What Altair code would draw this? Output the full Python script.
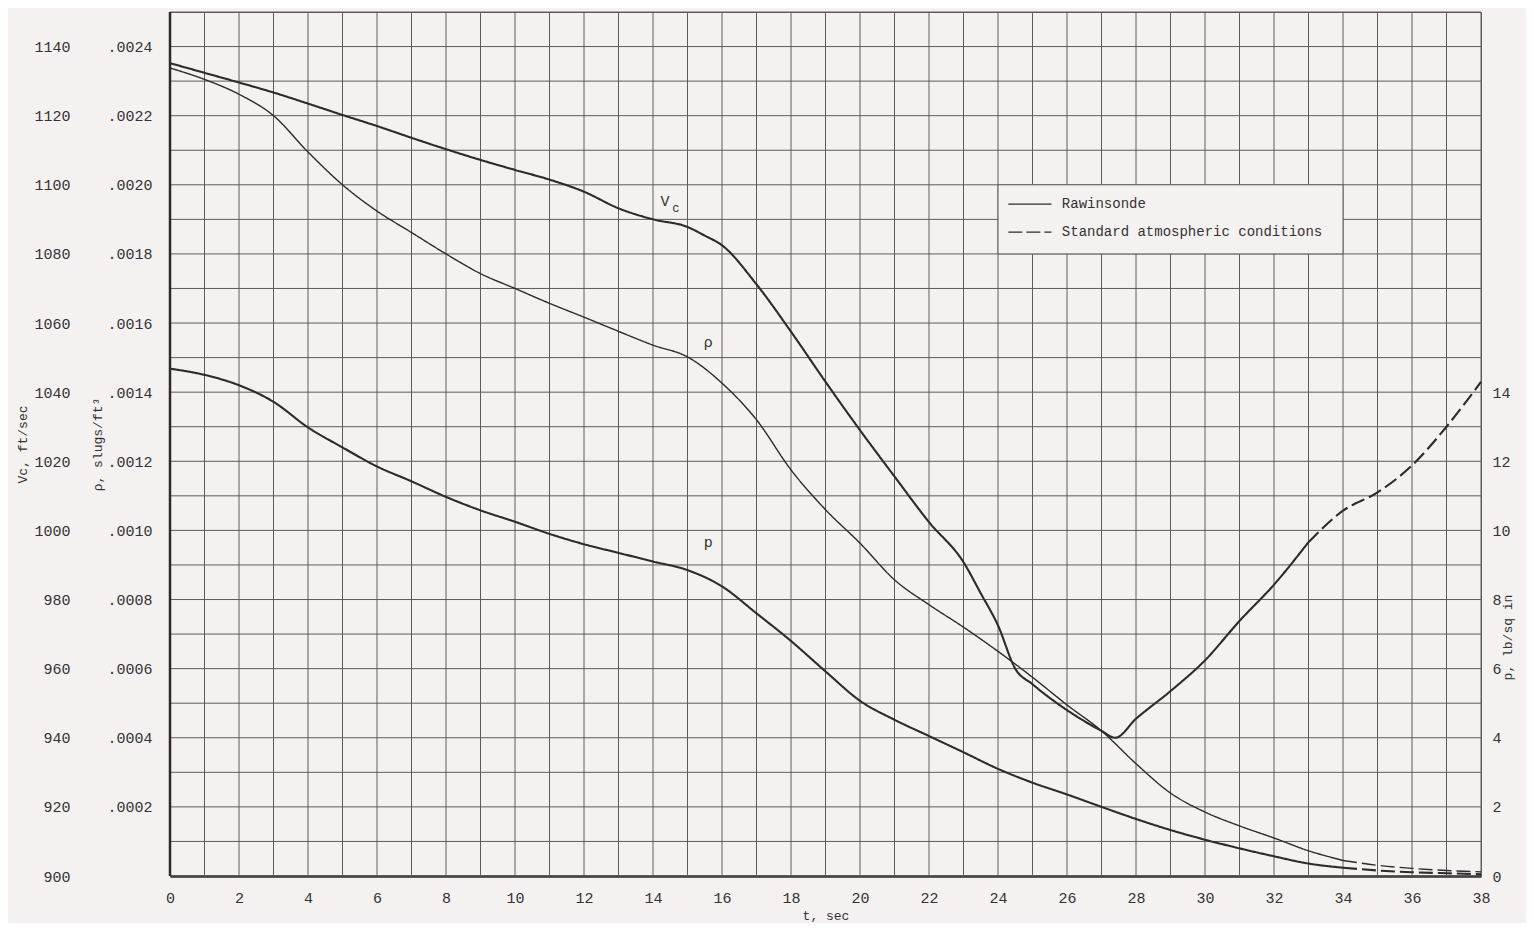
import altair as alt
import pandas as pd

# ---------------- data ----------------
t_vc = [0, 1, 2, 3, 4, 5, 6, 7, 8, 9, 10, 11, 12, 13, 14, 15, 15.5, 16, 17, 18, 19, 20,
        21, 22, 23, 23.5, 24, 24.5, 25, 26, 27, 27.4, 28, 29, 30, 31, 32, 33, 34, 35, 36, 37, 38]
vc = [1135.2, 1132.4, 1129.6, 1126.7, 1123.5, 1120.2, 1117.0, 1113.6, 1110.3, 1107.2,
      1104.3, 1101.5, 1098.0, 1093.2, 1090.0, 1087.8, 1085.3, 1082.5, 1071.2, 1057.5,
      1043.0, 1029.0, 1015.6, 1002.4, 990.8, 981.8, 972.5, 960.0, 955.5, 948.0, 942.0,
      940.0, 945.5, 953.5, 962.4, 973.8, 984.3, 996.6, 1005.7, 1011.0, 1018.8, 1030.0, 1043.0]

t_rho = list(range(0, 39))
rho = [0.002338, 0.002305, 0.002262, 0.002200, 0.002095, 0.002000, 0.001924, 0.001862,
       0.001800, 0.001743, 0.001700, 0.001657, 0.001617, 0.001576, 0.001536, 0.001502,
       0.001426, 0.001320, 0.001175, 0.001060, 0.000963, 0.000857, 0.000785, 0.000720,
       0.000650, 0.000575, 0.000495, 0.000420, 0.000325, 0.000240, 0.000185, 0.000145,
       0.000110, 0.000073, 0.000045, 0.000031, 0.000022, 0.000016, 0.000012]

t_p = list(range(0, 39))
p = [14.68, 14.50, 14.20, 13.72, 12.98, 12.40, 11.85, 11.42, 10.97, 10.58, 10.25, 9.90,
     9.60, 9.35, 9.10, 8.85, 8.38, 7.60, 6.80, 5.92, 5.07, 4.52, 4.05, 3.58, 3.10, 2.70,
     2.36, 2.00, 1.65, 1.33, 1.05, 0.80, 0.57, 0.36, 0.24, 0.16, 0.11, 0.08, 0.05]

vc_dash_from = 33      # rawinsonde data end, standard atmosphere after
rho_dash_from = 34
p_dash_from = 34

sources = ["Rawinsonde", "Standard atmospheric conditions"]
x_ticks = list(range(0, 39))
vc_ticks = list(range(900, 1151, 10))
rho_ticks = [round(i * 0.0002, 4) for i in range(1, 13)]
p_ticks = list(range(0, 15, 2))


def split(ts, vs, start, name):
    rows = []
    for t, v in zip(ts, vs):
        if t <= start:
            rows.append({"t": t, name: v, "src": sources[0]})
        if t >= start:
            rows.append({"t": t, name: v, "src": sources[1]})
    return pd.DataFrame(rows)


vc_df = split(t_vc, vc, vc_dash_from, "v")
rho_df = split(t_rho, rho, rho_dash_from, "rho")
p_df = split(t_p, p, p_dash_from, "p")

# ---------------- styling ----------------
W, H = 1311, 864
BG = "#f5f1f1"
INK = "#2b2b2b"
GRID = "#5c5c5c"
FONT = "Liberation Mono"

x_axis = alt.Axis(values=x_ticks, grid=False, ticks=False,
                  domain=True, domainColor=INK, domainWidth=2.5,
                  labelExpr="datum.value % 2 == 0 ? datum.label : ''",
                  labelFont=FONT, labelFontSize=15, labelColor="#333", labelPadding=14,
                  labelFlush=False, labelOverlap=False,
                  title="t, sec", titleFont=FONT, titleFontSize=13, titleFontWeight="normal",
                  titleColor="#333", titlePadding=4)
x_enc = alt.X("t:Q", scale=alt.Scale(domain=[0, 38], nice=False, zero=False), axis=x_axis)

vc_scale = alt.Scale(domain=[900, 1150], nice=False, zero=False)
vc_axis = alt.Axis(orient="left", values=vc_ticks, format="d", grid=False,
                   ticks=False, domain=False, offset=100, labelPadding=0,
                   labelExpr="datum.value % 20 == 0 && datum.value < 1150 ? datum.label : ''",
                   labelFont=FONT, labelFontSize=15, labelColor="#333",
                   labelFlush=False, labelOverlap=False,
                   title="Vc, ft/sec", titleFont=FONT, titleFontSize=13,
                   titleFontWeight="normal", titleColor="#333", titlePadding=4)
vc_y = alt.Y("v:Q", scale=vc_scale, axis=vc_axis)

rho_axis = alt.Axis(orient="left", values=rho_ticks, grid=False, ticks=False, domain=False,
                    offset=18, labelPadding=0,
                    labelExpr="replace(format(datum.value, '.4f'), '0.', '.')",
                    labelFont=FONT, labelFontSize=15, labelColor="#333",
                    labelFlush=False, labelOverlap=False,
                    title="ρ, slugs/ft³", titleFont=FONT, titleFontSize=13,
                    titleFontWeight="normal", titleColor="#333", titlePadding=2)
rho_y = alt.Y("rho:Q", scale=alt.Scale(domain=[0, 0.0025], nice=False, zero=False), axis=rho_axis)

p_axis = alt.Axis(orient="right", values=p_ticks, format="d", grid=False, ticks=False,
                  domain=False, labelPadding=11, labelFont=FONT, labelFontSize=15,
                  labelColor="#333", labelFlush=False, labelOverlap=False,
                  title="p, lb/sq in", titleFont=FONT, titleFontSize=13,
                  titleFontWeight="normal", titleColor="#333", titleAngle=270,
                  titlePadding=4, titleY=625)
p_y = alt.Y("p:Q", scale=alt.Scale(domain=[0, 25], nice=False, zero=False), axis=p_axis)

dash = alt.StrokeDash("src:N", scale=alt.Scale(domain=sources, range=[[1, 0], [14, 5]]),
                      legend=None)
one = pd.DataFrame({"k": [0]})

# ---------------- grid (1 s x 10 ft/s cells) ----------------
grid_v = alt.Chart(pd.DataFrame({"t": x_ticks})).mark_rule(color=GRID, strokeWidth=1).encode(
    x=x_enc)
grid_h = alt.Chart(pd.DataFrame({"v": vc_ticks})).mark_rule(color=GRID, strokeWidth=1).encode(
    y=vc_y)

# ---------------- Vc group (also carries legend box and border) ----------------
vc_line = alt.Chart(vc_df).mark_line(interpolate="monotone", color=INK, strokeWidth=2.1).encode(
    x=x_enc, y=vc_y, strokeDash=dash)

legend_box = alt.Chart(one).mark_rect(fill=BG, stroke=GRID, strokeWidth=1).encode(
    x=alt.datum(24), x2=alt.datum(34), y=alt.datum(1080), y2=alt.datum(1100))
leg_solid = alt.Chart(one).mark_rule(color=INK, strokeWidth=1.3).encode(
    x=alt.datum(24.3), x2=alt.datum(25.55), y=alt.datum(1094.4))
leg_dash = alt.Chart(one).mark_rule(color=INK, strokeWidth=1.3, strokeDash=[14, 4]).encode(
    x=alt.datum(24.3), x2=alt.datum(25.55), y=alt.datum(1086.3))
leg_text = alt.Chart(pd.DataFrame({"label": sources, "row": [0, 1]})).mark_text(
    align="left", baseline="middle", font=FONT, fontSize=14, color="#333").encode(
    x=alt.datum(25.85),
    y=alt.Y("ypos:Q", scale=vc_scale, axis=vc_axis),
    text="label:N").transform_calculate(ypos="datum.row == 0 ? 1094.4 : 1086.3")

vc_label = alt.Chart(one).mark_text(text="V", font=FONT, fontSize=15, color="#333").encode(
    x=alt.datum(14.35), y=alt.datum(1095.2))
vc_sub = alt.Chart(one).mark_text(text="c", font=FONT, fontSize=12, color="#333").encode(
    x=alt.datum(14.66), y=alt.datum(1093.2))
left_border = alt.Chart(one).mark_rule(color=INK, strokeWidth=2.5).encode(
    x=alt.value(0), y=alt.value(0), y2=alt.value(H))

vc_group = alt.layer(grid_v, grid_h, vc_line, legend_box, leg_solid, leg_dash, leg_text,
                     vc_label, vc_sub, left_border)

# ---------------- rho group ----------------
rho_line = alt.Chart(rho_df).mark_line(interpolate="monotone", color=INK, strokeWidth=1.4).encode(
    x=x_enc, y=rho_y, strokeDash=dash)
rho_label = alt.Chart(one).mark_text(text="ρ", font=FONT, fontSize=15, color="#333").encode(
    x=alt.datum(15.6), y=alt.datum(0.001546))
rho_group = alt.layer(rho_line, rho_label)

# ---------------- p group ----------------
p_line = alt.Chart(p_df).mark_line(interpolate="monotone", color=INK, strokeWidth=2.1).encode(
    x=x_enc, y=p_y, strokeDash=dash)
p_label = alt.Chart(one).mark_text(text="p", font=FONT, fontSize=15, color="#333").encode(
    x=alt.datum(15.6), y=alt.datum(9.65))
p_group = alt.layer(p_line, p_label)

chart = alt.layer(vc_group, rho_group, p_group).resolve_scale(y="independent").properties(
    width=W, height=H,
    padding={"left": 162, "top": 4, "right": 45, "bottom": 47},
    autosize=alt.AutoSizeParams(type="none"),
    background=BG,
).configure_view(stroke=GRID, strokeWidth=1)

chart.save("out.html", embed_options={"renderer": "svg", "actions": False})
